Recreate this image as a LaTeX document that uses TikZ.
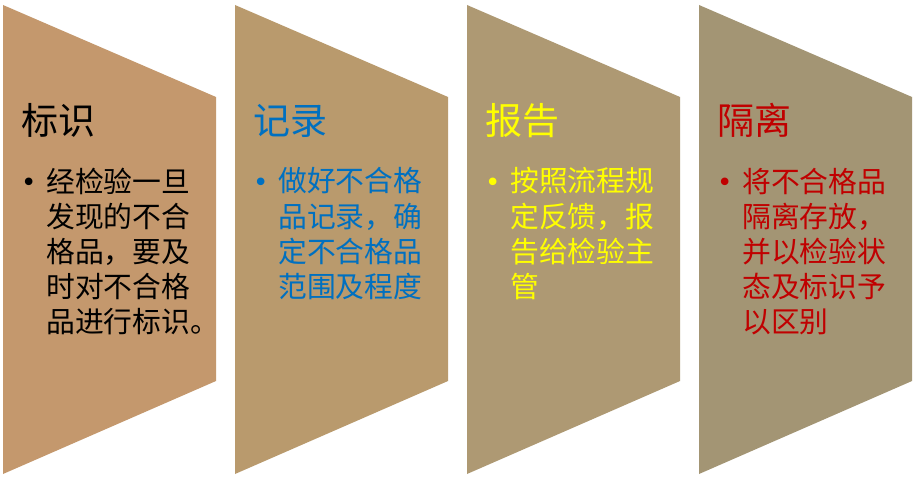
\documentclass[tikz,border=0pt]{standalone}
\usepackage{fontspec}
\setmainfont{Noto Sans CJK SC}
\newfontfamily\bulfont{DejaVu Sans}
\definecolor{cA}{HTML}{C4986D}
\definecolor{cB}{HTML}{B99A6D}
\definecolor{cC}{HTML}{AE9973}
\definecolor{cD}{HTML}{A39574}
\definecolor{tblue}{HTML}{0070C0}
\definecolor{tyellow}{HTML}{FFFF00}
\definecolor{tred}{HTML}{C00000}
\begin{document}
\begin{tikzpicture}[x=1pt,y=-1pt,
  title/.style={anchor=base west,inner sep=0pt,font=\fontsize{37}{40}\selectfont},
  body/.style={anchor=base west,inner sep=0pt,align=left,font=\fontsize{28.8}{35}\selectfont},
  bul/.style={anchor=base west,inner sep=0pt,font=\bulfont\fontsize{26}{28}\selectfont}]
\useasboundingbox (0,0) rectangle (915,478);
\fill[white] (0,0) rectangle (915,478);
\foreach \x/\c in {3/cA,235/cB,467/cC,699/cD}{
  \fill[\c] (\x,5) -- (\x+213,97) -- (\x+213,381) -- (\x,474) -- cycle;
}
% shape 1
\node[title] (t1) at (21,135) {标识};
\node[bul] (b1) at (21,192) {•};
\node[body] (d1) at (46,332) {经检验一旦\\发现的不合\\格品，要及\\时对不合格\\品进行标识。};
% shape 2
\node[title,text=tblue] (t2) at (253,135) {记录};
\node[bul,text=tblue] (b2) at (253,192) {•};
\node[body,text=tblue] (d2) at (278,297) {做好不合格\\品记录，确\\定不合格品\\范围及程度};
% shape 3
\node[title,text=tyellow] (t3) at (485,135) {报告};
\node[bul,text=tyellow] (b3) at (485,192) {•};
\node[body,text=tyellow] (d3) at (510,297) {按照流程规\\定反馈，报\\告给检验主\\管};
% shape 4
\node[title,text=tred] (t4) at (717,135) {隔离};
\node[bul,text=tred] (b4) at (717,192) {•};
\node[body,text=tred] (d4) at (742,332) {将不合格品\\隔离存放，\\并以检验状\\态及标识予\\以区别};
\end{tikzpicture}
\end{document}
